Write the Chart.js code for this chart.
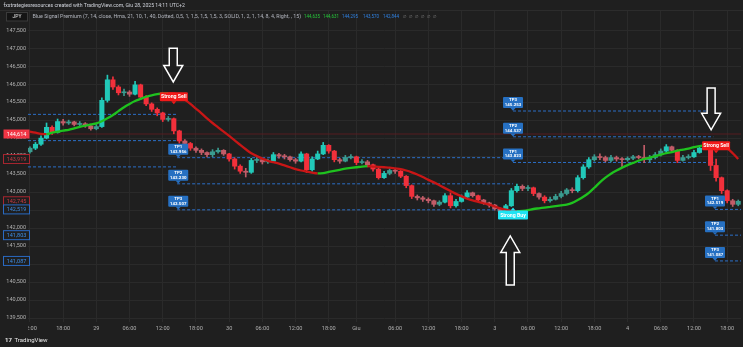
<!DOCTYPE html>
<html><head><meta charset="utf-8">
<script src="https://cdn.jsdelivr.net/npm/chart.js@4.4.1/dist/chart.umd.min.js"></script>
<style>html,body{margin:0;padding:0;background:#1f1f1f;overflow:hidden}canvas{display:block}</style>
</head><body><canvas id="c" width="743" height="347"></canvas>
<script>
// ---------- DATA ----------
const firstOpen = 144.12;
const closes = [
144.22,144.33,144.50,144.80,144.66,144.96,144.92,144.95,144.88,144.90,
144.84,144.76,144.82,145.55,146.12,145.92,145.76,145.78,145.72,145.98,
145.64,145.45,145.30,145.20,145.02,145.04,144.70,144.42,144.35,144.22,
144.16,144.10,144.04,144.12,144.16,144.06,143.92,143.72,143.58,143.55,
143.88,143.90,143.84,143.86,144.04,144.00,143.98,143.90,143.86,144.06,
143.62,143.92,144.06,144.30,144.14,143.90,143.86,143.96,143.98,143.82,
143.84,143.76,143.64,143.40,143.52,143.60,143.58,143.44,143.18,142.88,
142.84,142.80,142.76,142.66,142.72,142.90,142.62,142.74,142.86,142.98,
142.90,142.78,142.70,142.64,142.54,142.46,142.62,143.04,143.16,143.10,
143.12,142.96,142.86,142.76,142.80,142.88,142.96,143.06,143.04,143.40,
143.70,143.90,143.98,143.96,143.88,143.96,143.92,143.90,143.94,143.98,
143.96,143.90,143.96,144.04,144.14,144.26,144.16,143.88,143.96,143.98,
144.10,144.22,144.28,143.74,143.40,143.04,142.76,142.66,142.745];
const highs = [
144.26,144.38,144.56,144.92,144.84,145.03,145.02,145.00,144.97,144.96,
144.93,144.86,144.88,145.62,146.25,146.20,145.96,145.86,145.82,146.08,
146.00,145.68,145.48,145.34,145.22,145.10,145.06,144.72,144.46,144.38,
144.26,144.20,144.12,144.18,144.22,144.18,144.08,143.95,143.76,143.66,
143.94,143.96,143.94,143.92,144.10,144.08,144.05,144.00,143.94,144.12,
144.08,143.98,144.14,144.38,144.32,144.16,143.94,144.02,144.04,144.00,
143.90,143.88,143.78,143.66,143.58,143.65,143.64,143.60,143.46,143.20,
142.92,142.88,142.84,142.78,142.76,142.96,142.98,142.80,142.92,143.04,
143.00,142.92,142.80,142.72,142.66,142.56,142.66,143.10,143.22,143.20,
143.18,143.14,142.98,142.90,142.86,142.94,143.02,143.10,143.12,143.46,
143.76,143.96,144.04,144.06,144.00,144.02,144.00,143.96,143.98,144.02,
144.02,144.30,144.02,144.10,144.20,144.32,144.28,144.18,144.02,144.04,
144.16,144.28,144.36,144.30,143.92,143.42,143.06,142.80,142.78];
const lows = [
144.08,144.18,144.30,144.48,144.60,144.64,144.86,144.88,144.84,144.83,
144.80,144.72,144.73,144.80,145.50,145.85,145.70,145.68,145.66,145.70,
145.58,145.40,145.24,145.12,144.96,144.97,144.62,144.36,144.28,144.16,
144.10,144.04,143.98,143.98,144.08,144.02,143.86,143.64,143.52,143.42,
143.52,143.82,143.78,143.80,143.84,143.94,143.92,143.86,143.80,143.84,
143.54,143.58,143.90,144.04,144.08,143.84,143.80,143.84,143.92,143.76,
143.78,143.70,143.58,143.36,143.38,143.48,143.52,143.40,143.12,142.82,
142.78,142.74,142.70,142.60,142.62,142.70,142.56,142.58,142.72,142.84,
142.86,142.74,142.66,142.58,142.50,142.40,142.42,142.60,143.00,143.04,
143.04,142.90,142.80,142.70,142.72,142.78,142.84,142.92,142.98,143.00,
143.36,143.66,143.86,143.90,143.84,143.84,143.86,143.70,143.86,143.90,
143.92,143.82,143.84,143.92,144.00,144.10,144.10,143.82,143.86,143.92,
143.96,144.08,144.18,143.60,143.30,142.96,142.70,142.60,142.62];
const maValues = [
144.68,144.65,144.62,144.61,144.65,144.68,144.71,144.73,144.77,144.81,
144.85,144.88,144.91,144.97,145.05,145.14,145.25,145.36,145.45,145.53,
145.59,145.65,145.69,145.72,145.74,145.75,145.74,145.68,145.57,145.45,
145.32,145.19,145.05,144.92,144.80,144.68,144.56,144.44,144.31,144.19,
144.08,144.00,143.93,143.87,143.83,143.79,143.74,143.69,143.64,143.60,
143.57,143.54,143.52,143.53,143.56,143.59,143.62,143.65,143.67,143.69,
143.71,143.72,143.71,143.70,143.69,143.68,143.66,143.64,143.60,143.55,
143.49,143.42,143.34,143.27,143.19,143.11,143.03,142.95,142.88,142.82,
142.77,142.73,142.69,142.65,142.60,142.55,142.51,142.48,142.47,142.48,
142.50,142.53,142.55,142.57,142.59,142.61,142.63,142.65,142.70,142.78,
142.87,142.98,143.12,143.27,143.40,143.51,143.60,143.68,143.75,143.81,
143.87,143.92,143.96,144.00,144.04,144.08,144.11,144.15,144.18,144.21,
144.25,144.28,144.30,144.32,144.33,144.31,144.22,144.08,143.92];

const xTickIdx  = [0,6,12,18,24,30,36,42,48,54,59,66,72,78,84,90,96,102,108,114,120,126];
const xTickText = ['12:00','18:00','29','06:00','12:00','18:00','30','06:00','12:00','18:00','Giu','06:00','12:00','18:00','3','06:00','12:00','18:00','4','06:00','12:00','18:00'];
const yTicks = [139.5,140,140.5,141,141.5,142,142.5,143,143.5,144,144.5,145,145.5,146,146.5,147,147.5];

const entryPrice = 144.614;
const levelStart = [-0.35,-0.35,-0.35, 26.6,26.6,26.6, 87.3,87.3,87.3, 123.8,123.8,123.8];
const levelEnd   = [26.6,26.6,26.6, 87.3,87.3,87.3, 123.5,123.5,123.5, 128.5,128.5,128.5];
const levelValue = [145.16,144.43,143.70, 143.956,143.230,142.507, 143.823,144.537,145.253, 142.519,141.803,141.087];

const tpLabelIdx = [26.8, 87.3, 123.8];
const tpNames = ['TP1','TP2','TP3'];

const sigIdx = [26.0, 87.3, 124.0];
const sigType = ['sell','buy','sell'];
const sigPrice = [145.65, 142.36, 144.29];

const arrowIdx = [25.9, 86.8, 123.1];
const arrowTail = [147.00, 140.42, 145.89];
const arrowTip  = [146.06, 141.78, 144.73];

const axisBoxValues = [144.614, 143.919, 142.745, 142.519, 141.803, 141.087];
const axisBoxKind   = ['fill','red','red','blue','blue','blue'];

const headerLine = 'fxstrategiesresources created with TradingView.com, Giu 28, 2025 14:11 UTC+2';
const indicatorText = 'Blue Signal Premium (7, 14, close, Hma, 21, 10, 1, 40, Dotted, 0,5, 1, 1,5, 1,5, 1,5, 3, SOLID, 1, 2, 1, 14, 8, 4, Right, , 15)';
const indicatorValues = ['144,635','144,631','144,295','143,570','142,844'];
const indicatorValueKind = ['green','green','blue','blue','blue'];

// ---------- CHART ----------
const BG = '#1f1f1f';
const opens = closes.map((c,i)=> i===0 ? firstOpen : closes[i-1]);
function candleColor(i){
  const up = closes[i] >= opens[i];
  const strong = Math.abs(closes[i]-opens[i]) >= 0.1;
  if (up) return strong ? '#22c9b9' : '#3a9c90';
  return strong ? '#f2303b' : '#c25c68';
}
Chart.defaults.font.family = 'Roboto';

const datasets = [];
levelValue.forEach((v,k)=>{
  datasets.push({type:'line', data:[{x:levelStart[k],y:v},{x:levelEnd[k],y:v}],
    borderColor:'#2c6fc7', borderWidth:1, borderDash:[3,2], pointRadius:0, order:10});
});
datasets.push({type:'line', data:[{x:-0.35,y:entryPrice},{x:128.5,y:entryPrice}],
  borderColor:'#561c20', borderWidth:1, pointRadius:0, order:9});
datasets.push({type:'bar', data:lows.map((l,i)=>({x:i,y:[l,highs[i]]})),
  backgroundColor:c=>candleColor(c.dataIndex), barThickness:1, grouped:false, order:5});
datasets.push({type:'bar', data:opens.map((o,i)=>({x:i,y:[o,closes[i]]})),
  backgroundColor:c=>candleColor(c.dataIndex), barThickness:4.4, grouped:false, minBarLength:1, order:4});
datasets.push({type:'line', data:maValues.map((v,i)=>({x:i,y:v})), borderWidth:2.3, pointRadius:0,
  tension:0.4, cubicInterpolationMode:'monotone', borderColor:'#1fbf1f',
  segment:{borderColor:c=> c.p1.parsed.y >= c.p0.parsed.y ? '#1fc21f' : '#c81616'}, order:1});

function rr(ctx,x,y,w,h,r){ctx.beginPath();ctx.moveTo(x+r,y);ctx.lineTo(x+w-r,y);ctx.quadraticCurveTo(x+w,y,x+w,y+r);ctx.lineTo(x+w,y+h-r);ctx.quadraticCurveTo(x+w,y+h,x+w-r,y+h);ctx.lineTo(x+r,y+h);ctx.quadraticCurveTo(x,y+h,x,y+h-r);ctx.lineTo(x,y+r);ctx.quadraticCurveTo(x,y,x+r,y);ctx.closePath();}

const overlay = {
  id:'overlay',
  afterDatasetsDraw(chart){
    const {ctx, scales:{x,y}} = chart;
    ctx.save();
    tpLabelIdx.forEach((idx,g)=>{
      const cx = x.getPixelForValue(idx);
      for (let k=0;k<3;k++){
        const v = levelValue[3+g*3+k];
        const py = y.getPixelForValue(v);
        const w=20,h=11,bot=py-3;
        ctx.fillStyle='#2670c2';
        rr(ctx,cx-w/2,bot-h,w,h,1); ctx.fill();
        ctx.beginPath();ctx.moveTo(cx-2.5,bot);ctx.lineTo(cx+2.5,bot);ctx.lineTo(cx,py-0.3);ctx.closePath();ctx.fill();
        ctx.fillStyle='#ffffff';ctx.textAlign='center';ctx.textBaseline='middle';
        ctx.font='bold 4.4px Roboto';
        ctx.fillText(tpNames[k],cx,bot-h+3.2);
        ctx.fillText(v.toFixed(3),cx,bot-h+7.9);
      }
    });
    sigIdx.forEach((idx,k)=>{
      const cx=x.getPixelForValue(idx), cy=y.getPixelForValue(sigPrice[k]);
      const sell = sigType[k]==='sell';
      const w = sell?28:30, h=9;
      ctx.fillStyle = sell?'#f21a1a':'#1fe3f2';
      rr(ctx,cx-w/2,cy-h/2,w,h,1); ctx.fill();
      ctx.beginPath();
      if (sell){ctx.moveTo(cx-2.5,cy+h/2);ctx.lineTo(cx+2.5,cy+h/2);ctx.lineTo(cx,cy+h/2+3);}
      else {ctx.moveTo(cx-2.5,cy-h/2);ctx.lineTo(cx+2.5,cy-h/2);ctx.lineTo(cx,cy-h/2-3);}
      ctx.closePath();ctx.fill();
      ctx.fillStyle='#ffffff';ctx.font='bold 5.2px Roboto';ctx.textAlign='center';ctx.textBaseline='middle';
      ctx.fillText(sell?'Strong Sell':'Strong Buy',cx,cy+0.3);
    });
    arrowIdx.forEach((idx,k)=>{
      const cx=x.getPixelForValue(idx), yT=y.getPixelForValue(arrowTail[k]), yP=y.getPixelForValue(arrowTip[k]);
      const dir = yP>yT?1:-1, headLen=16.5, sw=4, hw=9.5, yB=yP-dir*headLen;
      ctx.beginPath();
      ctx.moveTo(cx-sw,yT);ctx.lineTo(cx+sw,yT);ctx.lineTo(cx+sw,yB);ctx.lineTo(cx+hw,yB);
      ctx.lineTo(cx,yP);ctx.lineTo(cx-hw,yB);ctx.lineTo(cx-sw,yB);ctx.closePath();
      ctx.fillStyle=BG;ctx.fill();ctx.strokeStyle='#ffffff';ctx.lineWidth=1.5;ctx.lineJoin='miter';ctx.stroke();
    });
    ctx.restore();
  },
  afterDraw(chart){
    const {ctx, scales:{y}, chartArea} = chart;
    ctx.save();
    ctx.fillStyle=BG; ctx.fillRect(0,chartArea.bottom+1,chartArea.left,13);
    ctx.strokeStyle='#2c2c2c';ctx.lineWidth=1;
    ctx.beginPath();ctx.moveTo(0,chartArea.top+0.5);ctx.lineTo(743,chartArea.top+0.5);ctx.stroke();
    axisBoxValues.forEach((v,k)=>{
      const py=y.getPixelForValue(v), kind=axisBoxKind[k];
      const bx=3.5,bw=26,bh=9;
      if(kind==='fill'){ctx.fillStyle='#f23645';ctx.fillRect(bx,py-bh/2,bw,bh);ctx.fillStyle='#ffffff';}
      else{
        ctx.fillStyle=BG;ctx.fillRect(bx,py-bh/2,bw,bh);
        ctx.strokeStyle= kind==='red'?'#a82630':'#2a6bc4';ctx.lineWidth=1;
        ctx.strokeRect(bx,py-bh/2,bw,bh);
        ctx.fillStyle= kind==='red'?'#c93a44':'#3d8ee6';
      }
      ctx.font='5.5px Roboto';ctx.textAlign='center';ctx.textBaseline='middle';
      ctx.fillText(v.toFixed(3).replace('.',','),bx+bw/2,py+0.3);
    });
    ctx.textBaseline='middle';ctx.textAlign='left';
    ctx.font='10px Roboto'; let s=10*182/ctx.measureText(headerLine).width;
    ctx.font=s+'px Roboto'; ctx.fillStyle='#d1d4dc'; ctx.fillText(headerLine,3.5,6);
    ctx.fillStyle='#141414';ctx.fillRect(6.5,12.5,21,8.5);ctx.strokeStyle='#3a3a3a';ctx.strokeRect(6.5,12.5,21,8.5);
    ctx.fillStyle='#e0e0e0';ctx.font='5px Roboto';ctx.textAlign='center';ctx.fillText('JPY',17,16.9);
    ctx.textAlign='left';
    ctx.font='10px Roboto'; s=10*269/ctx.measureText(indicatorText).width;
    ctx.font=s+'px Roboto'; ctx.fillStyle='#b2b5be'; ctx.fillText(indicatorText,32.5,16.5);
    ctx.font='10px Roboto'; const vs=10*16/ctx.measureText(indicatorValues[0]).width;
    ctx.font=vs+'px Roboto';
    const valX=[304,323,342,363,383];
    indicatorValues.forEach((t,k)=>{ctx.fillStyle=indicatorValueKind[k]==='green'?'#26c43a':'#2f80e0';ctx.fillText(t,valX[k],16.5);});
    ctx.fillStyle='#8a8a8a';
    [403,409,415,421,427,433].forEach(px=>ctx.fillText('\u2205',px,16.5));
    ctx.fillStyle='#e8e8e8';ctx.font='bold 6px Roboto';ctx.fillText('17',5,340.5);
    ctx.font='6px Roboto';ctx.fillText('TradingView',14.5,340.5);
    ctx.restore();
  }
};

new Chart(document.getElementById('c'), {
  type:'bar',
  data:{datasets},
  options:{
    responsive:false, animation:false, events:[],
    layout:{padding:{top:10,right:2,bottom:11,left:0}},
    plugins:{legend:{display:false},tooltip:{enabled:false}},
    scales:{
      x:{type:'linear',min:-0.35,max:128.5,offset:false,
        grid:{color:'#2a2a2a',drawTicks:false,offset:false},border:{display:false},
        afterBuildTicks:s=>{s.ticks=xTickIdx.map(v=>({value:v}));},
        afterFit:s=>{s.height=14;},
        ticks:{autoSkip:false,maxRotation:0,minRotation:0,padding:3,color:'#b0b0b0',font:{size:5.6},
          callback:v=>xTickText[xTickIdx.indexOf(v)]}},
      y:{type:'linear',position:'left',min:139.39,max:148.06,
        grid:{color:'#2a2a2a',drawTicks:false},border:{display:false},
        afterBuildTicks:s=>{s.ticks=yTicks.map(v=>({value:v}));},
        afterFit:s=>{s.width=28;},
        ticks:{padding:2,color:'#b0b0b0',font:{size:5.5},callback:v=>v.toFixed(3).replace('.',',')}}
    }
  },
  plugins:[overlay]
});
</script></body></html>
